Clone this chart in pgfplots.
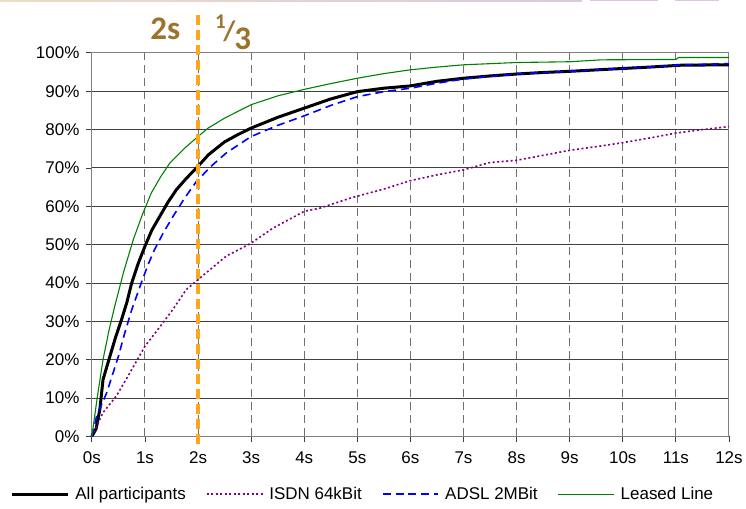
\documentclass[border=0pt]{standalone}
\usepackage{pgfplots}
\pgfplotsset{compat=1.18}
\usepackage{fontspec}
\setmainfont{Liberation Sans}
\newfontfamily\slidefont{Carlito}
\usetikzlibrary{calc}
\definecolor{gridh}{RGB}{64,64,64}
\definecolor{gridv}{RGB}{112,112,112}
\definecolor{frame}{RGB}{128,128,128}
\definecolor{isdn}{RGB}{128,0,128}
\definecolor{leased}{RGB}{0,128,0}
\definecolor{marker}{RGB}{255,165,30}
\definecolor{brownish}{RGB}{155,115,45}
\definecolor{bandl}{RGB}{234,222,196}
\definecolor{bandr}{RGB}{222,198,226}
\begin{document}
\begin{tikzpicture}
\begin{axis}[
  name=ax,
  at={(0,0)}, anchor=south west,
  scale only axis,
  width=638pt, height=384pt,
  xmin=0, xmax=12, ymin=0, ymax=100,
  xtick={0,1,...,12}, ytick={0,10,...,100},
  xticklabel={\pgfmathprintnumber{\tick}s},
  yticklabel={\pgfmathprintnumber{\tick}\%},
  /pgf/number format/assume math mode=true,
  ticklabel style={font=\fontsize{17}{17}\selectfont},
  xticklabel style={yshift=-6pt},
  yticklabel style={xshift=-3pt},
  tick align=outside, tick pos=left,
  major tick length=6pt,
  tick style={gridh, line width=0.9pt},
  axis line style={frame, line width=1pt},
  xmajorgrids, ymajorgrids,
  major x grid style={gridv, line width=1pt, dash pattern=on 8pt off 5pt},
  major y grid style={gridh, line width=1pt},
  clip=false,
  legend columns=4,
  legend style={draw=none, fill=none, inner sep=0pt,
    at={(axis description cs:-0.128,-0.151)}, anchor=west,
    font=\fontsize{17}{17}\selectfont,
    /tikz/every odd column/.append style={column sep=4pt},
    /tikz/every even column/.append style={column sep=18pt}},
  legend image code/.code={\draw[#1] (0pt,0pt) -- (56pt,0pt);},
]
\addplot[black, line width=3pt] coordinates {
 (0,0) (0.08,2) (0.15,7) (0.21,14.8) (0.34,20.9) (0.45,26) (0.56,30.5)
 (0.66,35) (0.75,40) (0.87,45) (1.0,49.6) (1.13,53.8) (1.28,57.4)
 (1.43,61) (1.59,64.3) (1.78,67.3) (1.97,70) (2.2,73.5) (2.5,76.8)
 (2.75,78.7) (3.0,80.4) (3.5,83.2) (4.0,85.6) (4.5,88) (5.0,89.9)
 (5.5,90.8) (6.0,91.4) (6.5,92.6) (7.0,93.4) (7.5,94) (8.0,94.5)
 (8.5,94.9) (9.0,95.2) (9.8,95.8) (10.5,96.3) (11.1,96.8) (12,96.9)
};
\addlegendentry{All participants}
\addplot[isdn, line width=1.6pt, dash pattern=on 2pt off 2.5pt] coordinates {
 (0,0) (0.21,6.2) (0.46,10.5) (0.68,15.7) (1.0,23.5) (1.25,28) (1.5,32.6)
 (1.78,38.3) (2.0,40.9) (2.53,47) (3.0,50.4) (3.41,54.3) (4.0,58.7)
 (4.29,59.5) (4.88,62.2) (5.5,64.5) (6.0,66.7) (6.5,68.2) (7.0,69.5)
 (7.49,71.4) (8.0,72) (8.5,73.3) (9.0,74.6) (9.52,75.6) (10.0,76.6)
 (10.5,77.8) (11.0,79.1) (11.5,80) (12,80.8)
};
\addlegendentry{ISDN 64kBit}
\addplot[blue, line width=1.6pt, dash pattern=on 8pt off 5pt] coordinates {
 (0,0) (0.09,5.3) (0.28,11.4) (0.5,20.9) (0.62,27) (0.75,33) (0.93,40)
 (1.05,44.5) (1.18,48.7) (1.35,53.2) (1.53,57.4) (1.75,62.2) (1.97,66.5)
 (2.25,70.5) (2.53,73.9) (3.0,78.2) (3.5,81.1) (4.0,83.6) (4.5,86.3)
 (5.0,88.6) (5.5,89.9) (6.0,90.8) (6.5,92.1) (7.0,93.2) (7.5,93.9)
 (8.0,94.5) (9.0,95.2) (9.8,95.8) (10.5,96.3) (11.1,96.9) (12,97.2)
};
\addlegendentry{ADSL 2MBit}
\addplot[leased, line width=1.1pt] coordinates {
 (0,0) (0.1,10) (0.21,20) (0.32,27.5) (0.43,33.9) (0.6,43) (0.78,51.3)
 (0.95,57.8) (1.12,63.5) (1.3,67.8) (1.47,71.3) (1.75,75.2) (2.0,78.2)
 (2.19,80.4) (2.5,83) (3.0,86.5) (3.5,88.8) (4.0,90.5) (4.5,92)
 (5.0,93.4) (5.5,94.6) (6.0,95.6) (6.5,96.3) (7.0,96.9) (8.0,97.5)
 (9.0,97.7) (9.6,98.2) (11.0,98.3) (11.05,98.8) (12,98.8)
};
\addlegendentry{Leased Line}
% 2 s marker line
\addplot[marker, line width=3.2pt, dash pattern=on 10pt off 5pt, forget plot]
  coordinates {(2,-2) (2,110.4)};
\node[brownish, font=\slidefont\bfseries\fontsize{33}{33}\selectfont, anchor=east]
  at (axis cs:1.73,106.3) {2s};
\node[brownish, font=\slidefont\bfseries, inner sep=0pt, anchor=base west]
  at (axis cs:2.32,101.0)
  {\raisebox{21pt}{\fontsize{21}{21}\selectfont 1}\kern-2.5pt%
   \raisebox{9pt}{\fontsize{28}{28}\selectfont /}\kern-1pt%
   {\fontsize{33}{33}\selectfont 3}};
\end{axis}
% canvas and slide band
\path[use as bounding box] ($(ax.south west)+(-92pt,-72pt)$) rectangle ($(ax.south west)+(654pt,437pt)$);
\shade[left color=bandl, right color=bandr] ($(ax.south west)+(-92pt,435.5pt)$) rectangle ($(ax.south west)+(491pt,437pt)$);
\fill[bandr] ($(ax.south west)+(499pt,435.5pt)$) rectangle ($(ax.south west)+(567pt,437pt)$);
\fill[bandr] ($(ax.south west)+(584pt,435.5pt)$) rectangle ($(ax.south west)+(628pt,437pt)$);
\end{tikzpicture}
\end{document}
